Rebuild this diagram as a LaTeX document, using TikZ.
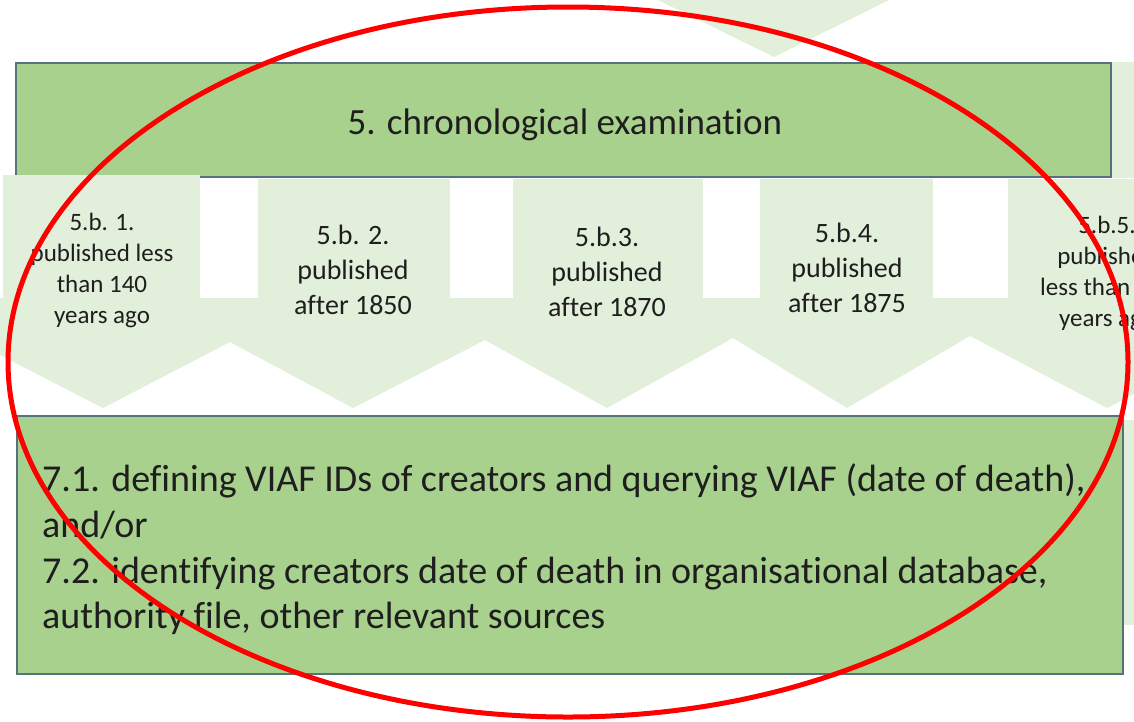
\documentclass[tikz,border=0pt]{standalone}
\usepackage{fontspec}
\setmainfont{Carlito}[Ligatures=NoCommon]
\definecolor{midgreen}{HTML}{A9D18E}
\definecolor{palegreen}{HTML}{E2EFDA}
\definecolor{edgeslate}{HTML}{56727A}
\definecolor{inkgray}{HTML}{1E1E1E}
\tikzset{
  greenbox/.style={draw=edgeslate,line width=2pt,fill=midgreen},
  coltext/.style={align=center,text=inkgray,font=\fontsize{28}{35}\selectfont},
  coltextsmall/.style={align=center,text=inkgray,font=\fontsize{25}{31}\selectfont},
  bodyline/.style={anchor=base west,inner sep=0pt,text=inkgray,font=\fontsize{38}{46}\selectfont},
}
\begin{document}
\begin{tikzpicture}[x=1pt,y=-1pt]
\clip (0,0) rectangle (1134,721);
\fill[white] (0,0) rectangle (1134,721);
% neighbour shapes at the edges
\fill[palegreen] (658,0) -- (889,0) -- (774,57) -- cycle;
\fill[palegreen] (1112,62) rectangle (1134,178);
\fill[palegreen] (1124,420) rectangle (1134,625);
% step 5
\draw[greenbox] (16,63) rectangle (1111,177);
\node[text=inkgray,font=\fontsize{37}{44}\selectfont] (head) at (565,125) {5. chronological examination};
% chevron row
\fill[palegreen] (0,298) -- (1134,298) -- (1134,394) -- (1107,408) -- (970,336) -- (847,408)
  -- (733,338) -- (607,408) -- (485,340) -- (353,408) -- (230,342) -- (103,408) -- (0,355) -- cycle;
\fill[palegreen] (3,175) rectangle (200,299);
\fill[palegreen] (258,179) rectangle (450,299);
\fill[palegreen] (513,179) rectangle (703,299);
\fill[palegreen] (760,179) rectangle (933,299);
\fill[palegreen] (1008,179) rectangle (1134,299);
\node[coltextsmall] (c1) at (102,270) {5.b. 1.\\published less\\than 140\\years ago};
\node[coltext] (c2) at (353,270) {5.b. 2.\\published\\after 1850};
\node[coltext] (c3) at (607,272) {5.b.3.\\published\\after 1870};
\node[coltext] (c4) at (847,268) {5.b.4.\\published\\after 1875};
\node[coltextsmall] (c5) at (1107,273) {5.b.5.\\published\\less than 140\\years ago};
% step 7
\draw[greenbox] (17,416) rectangle (1123,674);
\node[bodyline] (l1) at (42,491) {7.1. defining VIAF IDs of creators and querying VIAF (date of death),};
\node[bodyline] (l2) at (42,537) {and/or};
\node[bodyline] (l3) at (42,583) {7.2. identifying creators date of death in organisational database,};
\node[bodyline] (l4) at (42,628) {authority file, other relevant sources};
% highlight
\draw[red,line width=5pt] (568,362) ellipse [x radius=560pt,y radius=355pt];
\end{tikzpicture}
\end{document}
